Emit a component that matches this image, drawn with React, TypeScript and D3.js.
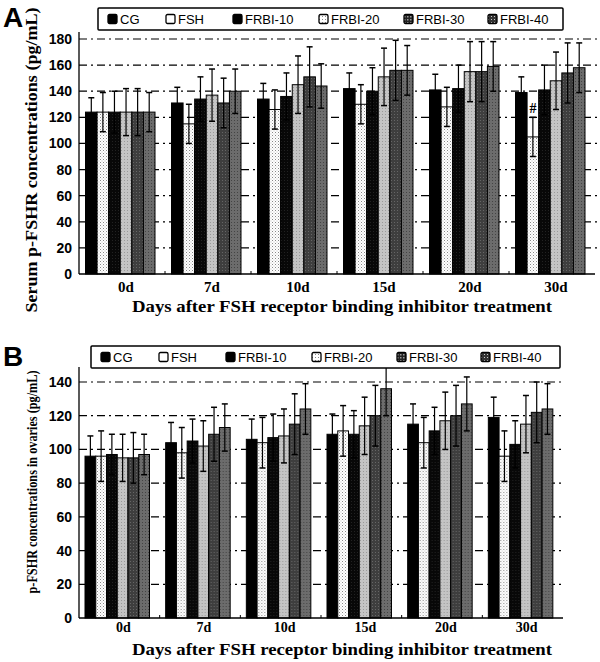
import React from "react";
import * as d3 from "d3";

const groups = ["0d", "7d", "10d", "15d", "20d", "30d"];
const seriesNames = ["CG", "FSH", "FRBI-10", "FRBI-20", "FRBI-30", "FRBI-40"];

// Panel A: serum p-FSHR (pg/mL)
const aCG = [124, 131, 134, 142, 141, 139];
const aFSH = [124, 115, 126, 130, 128, 105];
const aF10 = [124, 134, 136, 140, 142, 141];
const aF20 = [124, 137, 145, 151, 155, 148];
const aF30 = [124, 131, 151, 156, 155, 154];
const aF40 = [124, 140, 144, 156, 159, 158];
const aErrCG = [11, 12, 12, 12, 12, 12];
const aErrFSH = [15, 15, 15, 15, 15, 15];
const aErrF10 = [16, 17, 18, 18, 18, 19];
const aErrF20 = [18, 20, 22, 22, 23, 22];
const aErrF30 = [18, 19, 23, 23, 23, 23];
const aErrF40 = [15, 17, 17, 19, 19, 19];
const aTicks = [0, 20, 40, 60, 80, 100, 120, 140, 160, 180];
const aMarks = [{ group: "30d", series: "FSH", text: "#" }];

// Panel B: ovarian p-FSHR (pg/mL)
const bCG = [96, 104, 106, 109, 115, 119];
const bFSH = [96, 98, 104, 111, 104, 96];
const bF10 = [97, 105, 107, 109, 111, 103];
const bF20 = [95, 102, 108, 114, 117, 115];
const bF30 = [95, 109, 115, 120, 120, 122];
const bF40 = [97, 113, 124, 136, 127, 124];
const bErrCG = [12, 12, 12, 12, 12, 12];
const bErrFSH = [15, 15, 15, 15, 15, 15];
const bErrF10 = [12, 13, 14, 14, 14, 14];
const bErrF20 = [14, 15, 16, 17, 17, 17];
const bErrF30 = [15, 16, 18, 18, 18, 18];
const bErrF40 = [12, 14, 15, 16, 16, 15];
const bTicks = [0, 20, 40, 60, 80, 100, 120, 140];

const xTitle = "Days after FSH receptor binding inhibitor treatment";

const fills = ["#000", "url(#pFSH)", "url(#pF10)", "url(#pF20)", "url(#pF30)", "url(#pF40)"];
const legendFills = ["#000", "#fff", "#000", "url(#pF20L)", "url(#pF30L)", "url(#pF40L)"];
const legendOffsets = [0, 58, 125, 211, 296, 380];

const SANS = "'Liberation Sans', Arial, sans-serif";
const SERIF = "'Liberation Serif', 'Times New Roman', serif";

function Panel(props: any) {
  const { vals, errs, ticks, yMax, yRange, axisTop, xRange, gridEnd, inner, letter, letterY,
    yTitle, yTitleY, yTitleLen, yTitleSize, legendX, legendY, legendW, tickY, tickSize, titleY, marks } = props;
  const x = d3.scaleBand().domain(groups).range(xRange).padding(0);
  const x1 = d3.scaleBand().domain(seriesNames).range(inner).padding(0);
  const y = d3.scaleLinear().domain([0, yMax]).range(yRange);
  const bw = x1.bandwidth();
  const base = y(0);
  return (
    <g>
      <text x={3} y={letterY} fontFamily={SANS} fontWeight="bold" fontSize={28}>{letter}</text>
      {/* grid */}
      {ticks.filter((t: number) => t > 0).map((t: number) => (
        <line key={t} x1={xRange[0]} x2={gridEnd} y1={y(t)} y2={y(t)} stroke="#000" strokeWidth={1.2}
          strokeDasharray="8,4,2,4" />
      ))}
      {/* y tick labels */}
      {ticks.map((t: number) => (
        <text key={t} x={xRange[0] - 7} y={y(t) + 5} textAnchor="end" fontFamily={SANS} fontWeight="bold"
          fontSize={14}>{t}</text>
      ))}
      {/* bars */}
      {groups.map((g, gi) => (
        <g key={g} transform={`translate(${x(g)},0)`}>
          {seriesNames.map((s, si) => {
            const v = vals[si][gi];
            const e = errs[si][gi];
            const cx = (x1(s) as number) + bw / 2;
            return (
              <g key={s}>
                <rect x={x1(s)} y={y(v)} width={bw} height={base - y(v)} fill={fills[si]} stroke="#000"
                  strokeWidth={1} />
                <line x1={cx} x2={cx} y1={y(v + e)} y2={y(v - e)} stroke="#000" strokeWidth={1.2} />
                <line x1={cx - 3} x2={cx + 3} y1={y(v + e)} y2={y(v + e)} stroke="#000" strokeWidth={1.5} />
                <line x1={cx - 3} x2={cx + 3} y1={y(v - e)} y2={y(v - e)} stroke="#000" strokeWidth={1.5} />
              </g>
            );
          })}
        </g>
      ))}
      {marks.map((m: any, i: number) => {
        const gi = groups.indexOf(m.group);
        const si = seriesNames.indexOf(m.series);
        const cx = (x(m.group) as number) + (x1(m.series) as number) + bw / 2;
        return (
          <text key={i} x={cx} y={y(vals[si][gi] + errs[si][gi]) - 4} textAnchor="middle" fontFamily={SERIF}
            fontWeight="bold" fontSize={14}>{m.text}</text>
        );
      })}
      {/* axes */}
      <line x1={xRange[0]} x2={xRange[0]} y1={axisTop} y2={base} stroke="#000" strokeWidth={1.3} />
      <line x1={xRange[0]} x2={xRange[1]} y1={base} y2={base} stroke="#000" strokeWidth={1.5} />
      {groups.slice(1).map((g) => (
        <line key={g} x1={x(g)} x2={x(g)} y1={base} y2={base - 3} stroke="#000" strokeWidth={1} />
      ))}
      {groups.map((g) => (
        <text key={g} x={(x(g) as number) + x.bandwidth() / 2 + 4} y={tickY} textAnchor="middle"
          fontFamily={SERIF} fontWeight="bold" fontSize={tickSize}>{g}</text>
      ))}
      <text x={342} y={titleY} textAnchor="middle" fontFamily={SERIF} fontWeight="bold" fontSize={16}
        textLength={420} lengthAdjust="spacingAndGlyphs">{xTitle}</text>
      <text transform={`translate(37,${yTitleY}) rotate(-90)`} textAnchor="middle" fontFamily={SERIF}
        fontWeight="bold" fontSize={yTitleSize} textLength={yTitleLen} lengthAdjust="spacingAndGlyphs">{yTitle}</text>
      {/* legend */}
      <rect x={legendX} y={legendY} width={legendW} height={22} fill="#fff" stroke="#000" strokeWidth={1.5} rx={1} />
      {seriesNames.map((s, i) => (
        <g key={s} transform={`translate(${legendX + 10 + legendOffsets[i]},${legendY + 11})`}>
          <rect x={0} y={-4.5} width={9} height={9} fill={legendFills[i]} stroke="#000" strokeWidth={1.3} rx={1.5} />
          <text x={12} y={5} fontFamily={SANS} fontSize={13}>{s}</text>
        </g>
      ))}
    </g>
  );
}

export default function App() {
  return (
    <svg width={600} height={662} style={{ position: "absolute", left: 0, top: 0, background: "#fff" }}>
      <defs>
        <pattern id="pFSH" width={3} height={3} patternUnits="userSpaceOnUse">
          <rect width={3} height={3} fill="#fff" />
          <rect width={1} height={1} fill="#888" />
          <rect x={1.5} y={1.5} width={1} height={1} fill="#bbb" />
        </pattern>
        <pattern id="pF10" width={3} height={3} patternUnits="userSpaceOnUse">
          <rect width={3} height={3} fill="#080808" />
          <rect width={1} height={1} fill="#222" />
        </pattern>
        <pattern id="pF20" width={3} height={3} patternUnits="userSpaceOnUse">
          <rect width={3} height={3} fill="#c4c4c4" />
          <rect width={1} height={1} fill="#999" />
        </pattern>
        <pattern id="pF30" width={3} height={3} patternUnits="userSpaceOnUse">
          <rect width={3} height={3} fill="#3e3e3e" />
          <rect width={1} height={1} fill="#666" />
        </pattern>
        <pattern id="pF40" width={3} height={3} patternUnits="userSpaceOnUse">
          <rect width={3} height={3} fill="#6c6c6c" />
          <rect width={1} height={1} fill="#444" />
        </pattern>
        <pattern id="pF20L" width={3} height={3} patternUnits="userSpaceOnUse">
          <rect width={3} height={3} fill="#fff" />
          <rect width={1} height={1} fill="#888" />
        </pattern>
        <pattern id="pF30L" width={3} height={3} patternUnits="userSpaceOnUse">
          <rect width={3} height={3} fill="#222" />
          <rect width={1.5} height={1.5} fill="#999" />
        </pattern>
        <pattern id="pF40L" width={3} height={3} patternUnits="userSpaceOnUse">
          <rect width={3} height={3} fill="#333" />
          <rect width={1} height={1} fill="#ccc" />
        </pattern>
      </defs>
      <Panel
        vals={[aCG, aFSH, aF10, aF20, aF30, aF40]}
        errs={[aErrCG, aErrFSH, aErrF10, aErrF20, aErrF30, aErrF40]}
        ticks={aTicks} yMax={180} yRange={[274, 39]} axisTop={32} xRange={[79, 595]} gridEnd={598}
        inner={[6.5, 76]} letter="A" letterY={27}
        yTitle="Serum p-FSHR concentrations (pg/mL)" yTitleY={160} yTitleLen={305} yTitleSize={16}
        legendX={98} legendY={8} legendW={465} tickY={292} tickSize={15} titleY={312} marks={aMarks}
      />
      <Panel
        vals={[bCG, bFSH, bF10, bF20, bF30, bF40]}
        errs={[bErrCG, bErrFSH, bErrF10, bErrF20, bErrF30, bErrF40]}
        ticks={bTicks} yMax={140} yRange={[618, 382]} axisTop={367} xRange={[79, 563]} gridEnd={561}
        inner={[6, 70.5]} letter="B" letterY={366}
        yTitle="p-FSHR concentrations in ovaries (pg/mL)" yTitleY={482} yTitleLen={223} yTitleSize={14}
        legendX={91} legendY={346} legendW={469} tickY={632} tickSize={14} titleY={655} marks={[]}
      />
    </svg>
  );
}
